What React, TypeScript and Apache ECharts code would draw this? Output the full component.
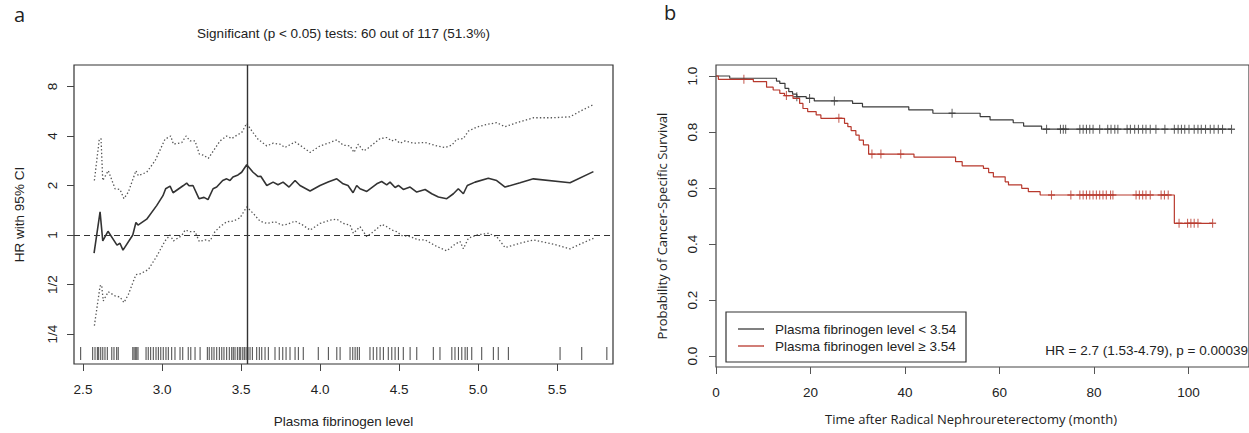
import React, { useEffect, useRef } from "react";
import * as echarts from "echarts";

// ---------- Panel a: HR (95% CI) across fibrinogen cut-offs ----------
const hrX = [2.570, 2.608, 2.625, 2.658, 2.715, 2.734, 2.753, 2.815, 2.835, 2.848,
  2.903, 2.966, 3.006, 3.023, 3.051, 3.070, 3.133, 3.156, 3.171, 3.196,
  3.234, 3.266, 3.291, 3.323, 3.346, 3.384, 3.409, 3.430, 3.449, 3.481,
  3.504, 3.536, 3.576, 3.608, 3.625, 3.663, 3.703, 3.734, 3.766, 3.804,
  3.842, 3.873, 3.937, 4.000, 4.051, 4.106, 4.146, 4.177, 4.209, 4.232,
  4.253, 4.296, 4.359, 4.390, 4.422, 4.443, 4.475, 4.496, 4.527, 4.570,
  4.612, 4.665, 4.707, 4.749, 4.802, 4.844, 4.875, 4.907, 4.932, 4.981,
  5.065, 5.118, 5.171, 5.266, 5.350, 5.582, 5.730];
const hrVal = [0.776, 1.383, 0.920, 1.053, 0.867, 0.891, 0.809, 1.000, 1.193, 1.149,
  1.248, 1.509, 1.734, 1.911, 1.983, 1.807, 1.992, 2.068, 1.992, 2.000,
  1.663, 1.693, 1.640, 1.911, 1.956, 2.144, 2.195, 2.144, 2.256, 2.320,
  2.408, 2.676, 2.408, 2.266, 2.278, 2.000, 2.097, 2.019, 2.097, 1.956,
  2.144, 2.000, 1.851, 2.000, 2.097, 2.195, 2.048, 2.000, 1.807, 2.000,
  1.911, 1.840, 2.048, 2.114, 2.019, 2.097, 1.945, 2.000, 1.892, 1.956,
  1.825, 1.892, 1.782, 1.703, 1.663, 1.782, 1.911, 1.782, 2.000, 2.097,
  2.216, 2.144, 1.956, 2.076, 2.195, 2.076, 2.428];

const upperX = [2.572, 2.603, 2.614, 2.625, 2.660, 2.703, 2.734, 2.759, 2.787, 2.835,
  2.850, 2.903, 2.956, 3.019, 3.055, 3.072, 3.125, 3.152, 3.177, 3.209,
  3.236, 3.261, 3.293, 3.325, 3.367, 3.409, 3.441, 3.483, 3.504, 3.536,
  3.576, 3.608, 3.663, 3.704, 3.747, 3.778, 3.842, 3.873, 3.937, 4.000,
  4.063, 4.106, 4.147, 4.190, 4.215, 4.242, 4.274, 4.296, 4.380, 4.422,
  4.454, 4.475, 4.506, 4.538, 4.591, 4.665, 4.739, 4.791, 4.834, 4.865,
  4.907, 4.939, 4.992, 5.055, 5.118, 5.171, 5.245, 5.350, 5.477, 5.582,
  5.646, 5.730];
const upperVal = [2.144, 3.821, 3.858, 2.144, 2.462, 1.911, 1.892, 1.663, 1.825, 2.462,
  2.297, 2.408, 2.828, 3.821, 4.000, 3.565, 3.650, 4.000, 3.732, 3.732,
  3.104, 3.061, 2.924, 3.249, 3.732, 4.000, 3.858, 4.095, 4.193, 4.770,
  4.193, 3.821, 3.482, 3.615, 3.565, 3.406, 3.681, 3.516, 3.178, 3.482,
  3.650, 3.784, 3.516, 3.482, 3.178, 3.565, 3.249, 3.326, 3.858, 3.912,
  3.732, 3.821, 3.615, 3.732, 3.615, 3.650, 3.482, 3.406, 3.516, 3.821,
  3.858, 4.287, 4.531, 4.704, 4.816, 4.556, 4.816, 5.162, 5.162, 5.234,
  5.657, 6.207];

const lowerX = [2.572, 2.608, 2.618, 2.628, 2.660, 2.703, 2.734, 2.759, 2.787, 2.835,
  2.861, 2.913, 2.966, 3.019, 3.051, 3.072, 3.125, 3.146, 3.177, 3.209,
  3.236, 3.272, 3.304, 3.335, 3.367, 3.409, 3.451, 3.494, 3.536, 3.578,
  3.620, 3.663, 3.715, 3.758, 3.789, 3.842, 3.884, 3.937, 4.000, 4.063,
  4.106, 4.147, 4.190, 4.211, 4.253, 4.296, 4.338, 4.391, 4.422, 4.454,
  4.485, 4.517, 4.570, 4.622, 4.665, 4.739, 4.802, 4.854, 4.886, 4.907,
  4.939, 4.992, 5.065, 5.118, 5.171, 5.266, 5.350, 5.477, 5.582, 5.646,
  5.730];
const lowerVal = [0.281, 0.489, 0.496, 0.397, 0.452, 0.426, 0.420, 0.388, 0.435, 0.574,
  0.580, 0.616, 0.741, 0.920, 1.000, 0.920, 0.992, 1.072, 1.048, 1.048,
  0.913, 0.933, 0.920, 1.048, 1.123, 1.204, 1.214, 1.273, 1.482, 1.351,
  1.214, 1.176, 1.204, 1.149, 1.160, 1.214, 1.160, 1.072, 1.176, 1.231,
  1.248, 1.176, 1.149, 1.024, 1.123, 0.978, 1.048, 1.160, 1.123, 1.072,
  1.048, 0.992, 0.978, 0.933, 0.933, 0.851, 0.801, 0.879, 0.913, 0.824,
  0.955, 1.000, 1.024, 0.978, 0.839, 0.891, 0.933, 0.879, 0.824, 0.879,
  0.955];

const rugValues = [2.485, 2.561, 2.576, 2.591, 2.599, 2.612, 2.625, 2.639, 2.654, 2.682,
  2.696, 2.713, 2.723, 2.815, 2.823, 2.831, 2.840, 2.848, 2.899, 2.913,
  2.928, 2.945, 2.962, 2.977, 2.992, 3.008, 3.025, 3.040, 3.061, 3.082,
  3.114, 3.131, 3.166, 3.182, 3.209, 3.241, 3.287, 3.299, 3.315, 3.329,
  3.346, 3.363, 3.378, 3.392, 3.409, 3.426, 3.441, 3.451, 3.462, 3.477,
  3.489, 3.498, 3.511, 3.521, 3.532, 3.544, 3.557, 3.572, 3.599, 3.616,
  3.631, 3.652, 3.673, 3.715, 3.742, 3.764, 3.785, 3.810, 3.842, 3.863,
  3.894, 3.989, 4.053, 4.106, 4.127, 4.190, 4.207, 4.222, 4.236, 4.249,
  4.316, 4.337, 4.359, 4.380, 4.401, 4.432, 4.454, 4.475, 4.496, 4.527,
  4.570, 4.612, 4.717, 4.759, 4.834, 4.854, 4.876, 4.897, 4.918, 4.932,
  4.960, 5.023, 5.097, 5.128, 5.192, 5.519, 5.656, 5.815];

const cutoff = 3.54;
const fibTicks = [2.5, 3.0, 3.5, 4.0, 4.5, 5.0, 5.5];
const hrTickValues = [0.25, 0.5, 1, 2, 4, 8];
const hrTickLabels = ["1/4", "1/2", "1", "2", "4", "8"];
const panelATitle = "Significant (p < 0.05) tests: 60 out of 117 (51.3%)";

// ---------- Panel b: Kaplan-Meier ----------
const lowTimes = [0, 2.9, 12.8, 13.5, 14.6, 15.4, 16.2, 17.1, 19.1, 20.8, 28.9, 31.0, 40.8, 45.9, 55.9, 58.0, 62.9, 65.1, 68.9];
const lowSurv = [1.0, 0.992, 0.982, 0.974, 0.956, 0.944, 0.935, 0.926, 0.920, 0.911, 0.902, 0.890, 0.879, 0.867, 0.855, 0.843, 0.833, 0.821, 0.810];
const lowCensor = [17.1, 19.8, 25.05, 49.96, 69.96, 72.9, 73.5, 74.0, 77.0, 77.7, 78.4, 79.1, 79.8, 81.2, 82.9, 83.6, 84.4, 85.05,
  87.0, 87.7, 88.6, 89.4, 90.3, 91.0, 91.9, 93.1, 95.0, 97.0, 97.8, 98.5, 99.2, 100.1, 101.2, 102.0, 102.7, 103.6, 104.6, 105.4, 106.3, 107.2, 109.1];

const highTimes = [0, 0.5, 7.9, 10.7, 12.1, 13.5, 14.5, 16.3, 17.7, 18.4, 19.4, 21.2, 22.2, 27.2, 27.9, 28.6, 29.6, 30.3, 31.2, 32.3,
  41.9, 50.7, 52.1, 56.6, 57.7, 58.7, 61.2, 61.9, 64.7, 66.1, 68.6, 97.0];
const highSurv = [1.0, 0.988, 0.980, 0.960, 0.950, 0.938, 0.930, 0.920, 0.902, 0.884, 0.873, 0.861, 0.849, 0.831, 0.819, 0.805, 0.789, 0.771, 0.754, 0.721,
  0.710, 0.694, 0.679, 0.670, 0.655, 0.640, 0.622, 0.611, 0.599, 0.587, 0.575, 0.474];
const highCensor = [5.9, 14.9, 26.0, 33.0, 34.9, 39.1, 71.0, 75.1, 77.0, 77.7, 78.4, 79.1, 79.8, 80.5, 81.2, 81.9, 82.6, 83.5, 84.0,
  88.9, 89.6, 90.3, 91.0, 91.9, 94.2, 94.9, 95.7, 98.0, 99.8, 100.5, 101.2, 102.0, 105.1];

const monthTicks = [0, 20, 40, 60, 80, 100];
const survTicks = [0, 0.2, 0.4, 0.6, 0.8, 1.0];
const lowName = "Plasma fibrinogen level < 3.54";
const highName = "Plasma fibrinogen level \u2265 3.54";
const hrText = "HR = 2.7 (1.53-4.79), p = 0.00039";

const LOW_COLOR = "#3c3c3c";
const HIGH_COLOR = "#b8392d";
const FONT = '"Liberation Sans", Arial, Helvetica, sans-serif';
const FONT2 = '"Open Sans", "Noto Sans", sans-serif';
const TXT = "#222";

function zip(xs: number[], ys: number[], f: (v: number) => number = (v) => v) {
  return xs.map((x, i) => [x, f(ys[i])]);
}
function survAt(times: number[], surv: number[], t: number) {
  let s = surv[0];
  for (let i = 0; i < times.length; i++) if (times[i] <= t) s = surv[i];
  return s;
}
function stepData(times: number[], surv: number[], endT: number) {
  const d = times.map((t, i) => [t, surv[i]]);
  d.push([endT, surv[surv.length - 1]]);
  return d;
}

const plusSymbol = "path://M5,0L5,10M0,5L10,5";

export default function App() {
  const ref = useRef<HTMLDivElement>(null);
  useEffect(() => {
    if (!ref.current) return;
    const chart = echarts.init(ref.current, null, { renderer: "svg" });
    const log2 = (v: number) => Math.log2(v);
    const tickText = { fontSize: 13.5, color: TXT, fontFamily: FONT };

    const option: any = {
      animation: false,
      grid: [
        { left: 74, top: 65, width: 539, height: 302, show: true, borderColor: "#333", borderWidth: 1.2, backgroundColor: "transparent" },
        { left: 716, top: 65, width: 536, height: 302, show: true, borderColor: "#444", borderWidth: 1.2, backgroundColor: "transparent" },
      ],
      xAxis: [
        {
          type: "value", gridIndex: 0, min: 2.443, max: 5.854,
          axisLine: { show: false, onZero: false }, splitLine: { show: false },
          axisTick: { show: true, length: 7, customValues: fibTicks, lineStyle: { color: "#444" } },
          axisLabel: { customValues: fibTicks, formatter: (v: number) => v.toFixed(1), margin: 18, ...tickText },
          name: "Plasma fibrinogen level", nameLocation: "middle", nameGap: 50,
          nameTextStyle: { fontSize: 13.5, color: TXT, fontFamily: FONT },
        },
        {
          type: "value", gridIndex: 1, min: 0, max: 112.8,
          axisLine: { show: false, onZero: false }, splitLine: { show: false },
          axisTick: { show: true, length: 7, customValues: monthTicks, lineStyle: { color: "#555" } },
          axisLabel: { customValues: monthTicks, margin: 18, ...tickText },
        },
      ],
      yAxis: [
        {
          type: "value", gridIndex: 0, min: -2.606, max: 3.434,
          axisLine: { show: false, onZero: false }, splitLine: { show: false },
          axisTick: { show: true, length: 7, customValues: hrTickValues.map(log2), lineStyle: { color: "#444" } },
          axisLabel: {
            customValues: hrTickValues.map(log2), rotate: 90, margin: 15, ...tickText,
            formatter: (v: number) => {
              const i = hrTickValues.findIndex((t) => Math.abs(log2(t) - v) < 1e-6);
              return i >= 0 ? hrTickLabels[i] : "";
            },
          },
          name: "HR with 95% CI", nameLocation: "middle", nameGap: 48,
          nameTextStyle: { fontSize: 13.5, color: TXT, fontFamily: FONT },
        },
        {
          type: "value", gridIndex: 1, min: -0.0393, max: 1.0393,
          axisLine: { show: false, onZero: false }, splitLine: { show: false },
          axisTick: { show: true, length: 7, customValues: survTicks, lineStyle: { color: "#555" } },
          axisLabel: { customValues: survTicks, rotate: 90, margin: 17, formatter: (v: number) => v.toFixed(1), ...tickText },
        },
      ],
      series: [
        {
          type: "line", xAxisIndex: 0, yAxisIndex: 0, data: zip(hrX, hrVal, log2),
          symbol: "none", lineStyle: { color: "#333", width: 1.6 },
          markLine: {
            silent: true, symbol: "none", label: { show: false },
            data: [
              { yAxis: 0, lineStyle: { type: [6, 4], color: "#333", width: 1.2 } },
              { xAxis: cutoff, lineStyle: { type: "solid", color: "#333", width: 1.4 } },
            ],
          },
        },
        {
          type: "line", xAxisIndex: 0, yAxisIndex: 0, data: zip(upperX, upperVal, log2),
          symbol: "none", lineStyle: { color: "#555", width: 1.3, type: [1.4, 2.2] },
        },
        {
          type: "line", xAxisIndex: 0, yAxisIndex: 0, data: zip(lowerX, lowerVal, log2),
          symbol: "none", lineStyle: { color: "#555", width: 1.3, type: [1.4, 2.2] },
        },
        {
          type: "custom", xAxisIndex: 0, yAxisIndex: 0, silent: true,
          data: rugValues.map((v) => [v, 0]), encode: { x: 0, y: 1 },
          renderItem: (params: any, api: any) => {
            const x = api.coord([api.value(0), 0])[0];
            const cs = params.coordSys;
            const yb = cs.y + cs.height;
            return {
              type: "line",
              shape: { x1: x, y1: yb - 4, x2: x, y2: yb - 17 },
              style: { stroke: "#555", lineWidth: 1.1 },
            };
          },
        },
        {
          name: lowName, type: "line", xAxisIndex: 1, yAxisIndex: 1, step: "end",
          data: stepData(lowTimes, lowSurv, lowCensor[lowCensor.length - 1]),
          symbol: "none", lineStyle: { color: LOW_COLOR, width: 1.2 },
        },
        {
          name: highName, type: "line", xAxisIndex: 1, yAxisIndex: 1, step: "end",
          data: stepData(highTimes, highSurv, highCensor[highCensor.length - 1]),
          symbol: "none", lineStyle: { color: HIGH_COLOR, width: 1.2 },
        },
        {
          type: "scatter", xAxisIndex: 1, yAxisIndex: 1, silent: true,
          data: lowCensor.map((t) => [t, survAt(lowTimes, lowSurv, t)]),
          symbol: plusSymbol, symbolSize: [7, 9],
          itemStyle: { color: "none", borderColor: LOW_COLOR, borderWidth: 1.2 },
        },
        {
          type: "scatter", xAxisIndex: 1, yAxisIndex: 1, silent: true,
          data: highCensor.map((t) => [t, survAt(highTimes, highSurv, t)]),
          symbol: plusSymbol, symbolSize: [7, 9],
          itemStyle: { color: "none", borderColor: HIGH_COLOR, borderWidth: 1.2 },
        },
      ],
      graphic: [
        { type: "text", left: 14, top: 4, style: { text: "a", font: `20px ${FONT2}`, fill: TXT } },
        { type: "text", left: 664, top: 2, style: { text: "b", font: `20px ${FONT2}`, fill: TXT } },
        { type: "text", x: 343.5, y: 33, style: { text: panelATitle, font: `13.5px ${FONT}`, fill: TXT, align: "center", verticalAlign: "middle" } },
        { type: "text", x: 662, y: 226, rotation: Math.PI / 2, style: { text: "Probability of Cancer-Specific Survival", font: `13px ${FONT2}`, fill: TXT, align: "center", verticalAlign: "middle" } },
        { type: "text", x: 971, y: 419, style: { text: "Time after Radical Nephroureterectomy (month)", font: `13px ${FONT2}`, fill: TXT, align: "center", verticalAlign: "middle" } },
        { type: "rect", shape: { x: 726, y: 312, width: 240, height: 50 }, style: { fill: "#fff", stroke: "#333", lineWidth: 1.2 } },
        { type: "line", shape: { x1: 738, y1: 329, x2: 764, y2: 329 }, style: { stroke: LOW_COLOR, lineWidth: 1.3 } },
        { type: "line", shape: { x1: 738, y1: 346, x2: 764, y2: 346 }, style: { stroke: HIGH_COLOR, lineWidth: 1.3 } },
        { type: "text", x: 775, y: 329, style: { text: lowName, font: `13.5px ${FONT}`, fill: TXT, verticalAlign: "middle" } },
        { type: "text", x: 775, y: 346, style: { text: highName, font: `13.5px ${FONT}`, fill: TXT, verticalAlign: "middle" } },
        { type: "text", x: 1248, y: 350, style: { text: hrText, font: `13.5px ${FONT}`, fill: TXT, align: "right", verticalAlign: "middle" } },
      ],
    };
    chart.setOption(option);
    return () => chart.dispose();
  }, []);

  return (
    <div
      ref={ref}
      style={{ position: "fixed", left: 0, top: 0, width: 1249, height: 433, background: "#fff" }}
    />
  );
}
